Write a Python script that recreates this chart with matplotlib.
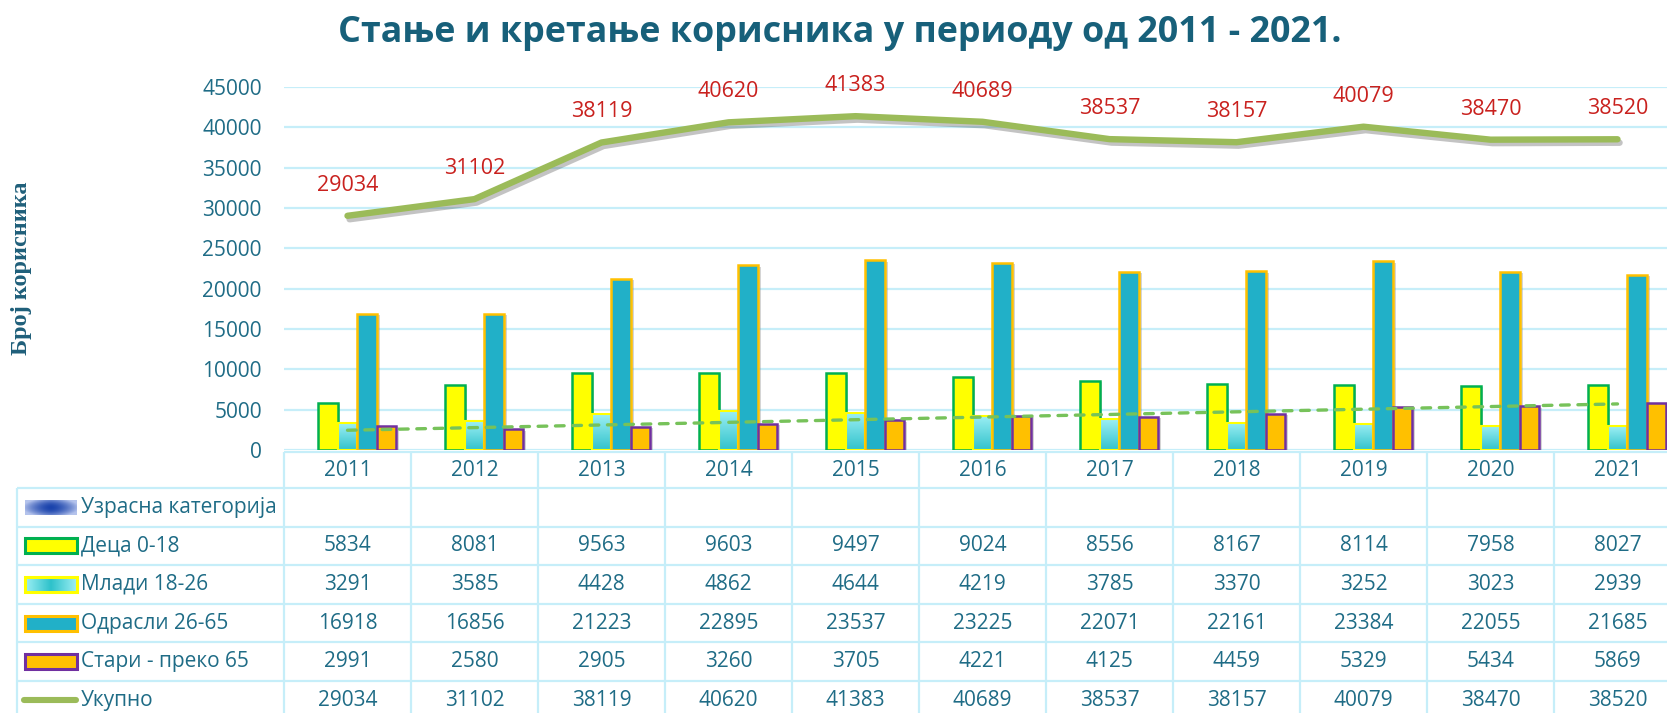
import numpy as np
import matplotlib
matplotlib.use('Agg')
import matplotlib.pyplot as plt
import matplotlib.transforms as mtransforms
import matplotlib.patheffects as pe
from matplotlib.colors import LinearSegmentedColormap, to_rgb
from matplotlib.patches import Rectangle

# ---------------- подаци ----------------
years = ['2011', '2012', '2013', '2014', '2015', '2016', '2017', '2018', '2019', '2020', '2021']
deca = [5834, 8081, 9563, 9603, 9497, 9024, 8556, 8167, 8114, 7958, 8027]
mladi = [3291, 3585, 4428, 4862, 4644, 4219, 3785, 3370, 3252, 3023, 2939]
odrasli = [16918, 16856, 21223, 22895, 23537, 23225, 22071, 22161, 23384, 22055, 21685]
stari = [2991, 2580, 2905, 3260, 3705, 4221, 4125, 4459, 5329, 5434, 5869]
ukupno = [29034, 31102, 38119, 40620, 41383, 40689, 38537, 38157, 40079, 38470, 38520]
row_labels = ['Узрасна категорија', 'Деца 0-18', 'Млади 18-26', 'Одрасли 26-65',
              'Стари - преко 65', 'Укупно']
y_ticks = [0, 5000, 10000, 15000, 20000, 25000, 30000, 35000, 40000, 45000]

FONT = ['Open Sans', 'DejaVu Sans']
TXT = '#1F6C86'
GRID = '#C6EEF9'
plt.rcParams['font.family'] = FONT

W, H = 1667, 713
fig = plt.figure(figsize=(W / 100, H / 100), dpi=100, facecolor='white')

# површина графика у пикселима
ax_l, ax_r, ax_top, ax_bot = 284, 1667, 87, 450
col_px = 127.0
ax = fig.add_axes([ax_l / W, 1 - ax_bot / H, (ax_r - ax_l) / W, (ax_bot - ax_top) / H])
tab = fig.add_axes([0, 0, 1, 1])
tab.axis('off')

x = np.arange(len(years))
w = 0.154
shadow = [pe.withSimplePatchShadow(offset=(2, -1), shadow_rgbFace='#888888', alpha=0.35)]

# Деца
ax.bar(x - w, deca, width=w, color='#FFFF00', edgecolor='#00B050', linewidth=1.8,
       zorder=3, path_effects=shadow)

# Млади - градијент
cyan_cmap = LinearSegmentedColormap.from_list('cy', ['#33C3CC', '#9CEFF4'])
grad = np.linspace(0, 1, 64).reshape(-1, 1)
bars_m = ax.bar(x, mladi, width=w, color='#5ED8E0', edgecolor='none', zorder=3.1,
                path_effects=shadow)
for b in bars_m:
    im = ax.imshow(grad, extent=[b.get_x(), b.get_x() + b.get_width(), 0, b.get_height()],
                   origin='lower', aspect='auto', cmap=cyan_cmap, zorder=3.15,
                   interpolation='bilinear')
    im.set_clip_path(b)
ax.bar(x, mladi, width=w, facecolor='none', edgecolor='#FFFF00', linewidth=1.5, zorder=3.18)

# Одрасли
ax.bar(x + w, odrasli, width=w, color='#21B0C8', edgecolor='#FFC000', linewidth=1.8,
       zorder=3.2, path_effects=shadow)
# Стари
ax.bar(x + 2 * w, stari, width=w, color='#FFC000', edgecolor='#7030A0', linewidth=1.8,
       zorder=3.3, path_effects=shadow)

# линеарни тренд за старе
k, n = np.polyfit(x, stari, 1)
ax.plot(x, k * x + n, color='#77C25A', lw=2.4, dashes=(2.6, 2.6), dash_capstyle='round',
        zorder=4)

# укупно
ax.plot(x, ukupno, color='#9BBB59', lw=4.6, solid_capstyle='round', solid_joinstyle='round',
        zorder=5, path_effects=[pe.SimpleLineShadow(offset=(1.5, -2.5), shadow_color='#555555',
                                                     alpha=0.35), pe.Normal()])
for xi, v in zip(x, ukupno):
    ax.annotate(str(v), (xi, v), xytext=(0, 22), textcoords='offset points',
                ha='center', va='center', fontsize=15.5, color='#C9211E', zorder=6,
                annotation_clip=False)

ax.set_xlim(-0.5, -0.5 + (ax_r - ax_l) / col_px)
ax.set_ylim(0, 45000)
ax.set_yticks(y_ticks)
ax.set_yticklabels([str(t) for t in y_ticks])
ax.set_xticks([])
ax.tick_params(axis='y', length=0, pad=16, labelsize=15, labelcolor=TXT)
ax.yaxis.grid(True, color=GRID, lw=1.6)
ax.set_axisbelow(True)
for s in ax.spines.values():
    s.set_visible(False)

# наслов и ознака осе
fig.text(840 / W, 1 - 33 / H, 'Стање и кретање корисника у периоду од 2011 - 2021.',
         ha='center', va='center', fontsize=25.8, fontweight='bold', color='#17607A')
fig.text(22 / W, 1 - 268 / H, 'Број корисника', rotation=90, ha='center', va='center',
         fontsize=17.5, fontweight='bold', color='#1F5F7A', family=['Liberation Serif'])

# ---------------- табела ----------------
bt = mtransforms.blended_transform_factory(ax.transData, tab.transData)
t_top, head_b = 452, 488
row_h = 38.6
row_lines = [head_b + i * row_h for i in range(len(row_labels))]
lkw = dict(color=GRID, lw=1.6, solid_capstyle='butt')

tab.plot([ax_l, W], [t_top, t_top], **lkw)
for yl in row_lines:
    tab.plot([17, W], [yl, yl], **lkw)
tab.plot([17, 17], [head_b, H], **lkw)
for i in range(len(years) + 1):
    tab.plot([i - 0.5, i - 0.5], [t_top, H], transform=bt, **lkw)

for i, yr in enumerate(years):
    tab.text(i, (t_top + head_b) / 2, yr, transform=bt, ha='center', va='center',
             fontsize=15, color=TXT, clip_on=False)

row_vals = [None, deca, mladi, odrasli, stari, ukupno]
for r, (lab, vals) in enumerate(zip(row_labels, row_vals)):
    yc = row_lines[r] + row_h / 2
    tab.text(81, yc, lab, ha='left', va='center', fontsize=15, color=TXT)
    if vals is not None:
        for i, v in enumerate(vals):
            tab.text(i, yc, str(v), transform=bt, ha='center', va='center',
                     fontsize=15, color=TXT, clip_on=False)

# ознаке легенде
def marker_rect(r, face, edge):
    yc = row_lines[r] + row_h / 2
    tab.add_patch(Rectangle((25, yc - 7.5), 52, 15, facecolor=face, edgecolor=edge, lw=2.2))

yc0 = row_lines[0] + row_h / 2
xx = np.linspace(-1, 1, 80)
yy = np.linspace(-1, 1, 20)
XX, YY = np.meshgrid(xx, yy)
t = np.clip(1 - (np.abs(XX) ** 1.6) * 0.85 - np.abs(YY) ** 2 * 0.5, 0, 1)
c_light, c_dark = np.array(to_rgb('#B4C3EC')), np.array(to_rgb('#1A43AC'))
img = c_light[None, None, :] * (1 - t[..., None]) + c_dark[None, None, :] * t[..., None]
tab.imshow(img, extent=[25, 77, yc0 + 7.5, yc0 - 7.5], aspect='auto', interpolation='bilinear')

marker_rect(1, '#FFFF00', '#00B050')
yc2 = row_lines[2] + row_h / 2
hg = 1 - np.abs(np.linspace(-1, 1, 80)).reshape(1, -1)
tab.imshow(hg, extent=[25, 77, yc2 + 7.5, yc2 - 7.5], aspect='auto',
           cmap=LinearSegmentedColormap.from_list('c2', ['#9CEFF4', '#2FC2CB']),
           interpolation='bilinear')
tab.add_patch(Rectangle((25, yc2 - 7.5), 52, 15, facecolor='none', edgecolor='#FFFF00', lw=2.2))
marker_rect(3, '#21B0C8', '#FFC000')
marker_rect(4, '#FFC000', '#7030A0')
yc5 = row_lines[5] + row_h / 2
tab.plot([24, 76], [yc5, yc5], color='#9BBB59', lw=4.4, solid_capstyle='round')

tab.set_xlim(0, W)
tab.set_ylim(H, 0)

fig.savefig('out.png', dpi=100, facecolor='white')
